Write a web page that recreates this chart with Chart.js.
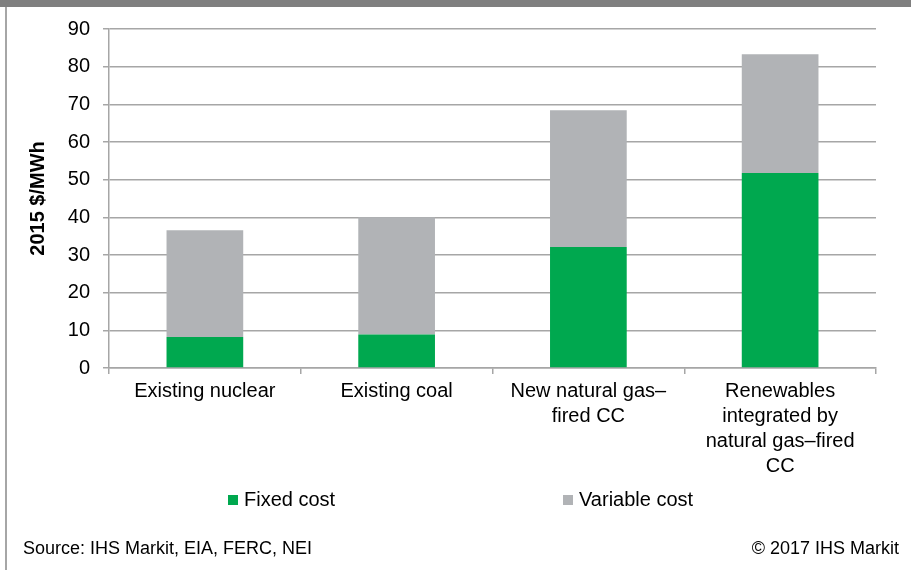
<!DOCTYPE html>
<html lang="en">
<head>
    <meta charset="UTF-8">
    <title>Cost comparison</title>
    <script src="https://cdn.jsdelivr.net/npm/chart.js"></script>
    <style>
        body { margin: 0; background: #fff; font-family: "Liberation Sans", Arial, sans-serif; }
        #wrap { position: relative; width: 911px; height: 570px; overflow: hidden; }
        #stripe { position: absolute; left: 0; top: 0; width: 911px; height: 7px; background: #7f7f7f; }
        #edge { position: absolute; left: 5px; top: 7px; width: 2px; height: 563px; background: #a6a6a6; }
        #box { position: absolute; left: 0; top: 0; width: 911px; height: 570px; }
        .note { position: absolute; top: 538px; font-size: 18px; color: #000; }
    </style>
</head>
<body>
    <div id="wrap">
        <div id="box"><canvas id="costChart"></canvas></div>
        <div id="stripe"></div>
        <div id="edge"></div>
        <div class="note" style="left: 23px;">Source: IHS Markit, EIA, FERC, NEI</div>
        <div class="note" style="right: 12px;">© 2017 IHS Markit</div>
    </div>

    <script>
        const categories = [
            ['Existing nuclear'],
            ['Existing coal'],
            ['New natural gas–', 'fired CC'],
            ['Renewables', 'integrated by', 'natural gas–fired', 'CC']
        ];
        const fixedCost = [8.2, 8.9, 32.1, 51.8];
        const variableCost = [28.4, 31.1, 36.3, 31.5];
        const yTicks = [0, 10, 20, 30, 40, 50, 60, 70, 80, 90];

        const font = '"Liberation Sans", Arial, sans-serif';
        const gridGray = '#a6a6a6';

        // legend drawn by hand so the two entries sit far apart like the original
        const legendSpots = [228, 563];
        const spreadLegend = {
            id: 'spreadLegend',
            afterDraw(chart) {
                const c = chart.ctx;
                c.save();
                c.font = '20px ' + font;
                c.textBaseline = 'alphabetic';
                chart.data.datasets.forEach((ds, i) => {
                    const x = legendSpots[i];
                    c.fillStyle = ds.backgroundColor;
                    c.fillRect(x, 495, 10, 10);
                    c.fillStyle = '#000';
                    c.fillText(ds.label, x + 16, 506);
                });
                c.restore();
            }
        };

        const ctx = document.getElementById('costChart').getContext('2d');
        new Chart(ctx, {
            type: 'bar',
            data: {
                labels: categories,
                datasets: [
                    { label: 'Fixed cost', data: fixedCost, backgroundColor: '#00a84f' },
                    { label: 'Variable cost', data: variableCost, backgroundColor: '#b1b3b6' }
                ]
            },
            options: {
                responsive: true,
                maintainAspectRatio: false,
                animation: false,
                layout: { padding: { top: 29, right: 35, bottom: 0, left: 0 } },
                plugins: {
                    legend: { display: false },
                    tooltip: { enabled: false }
                },
                datasets: {
                    bar: { categoryPercentage: 1.0, barPercentage: 0.4 }
                },
                scales: {
                    x: {
                        stacked: true,
                        afterFit(scale) { scale.height = 202; },
                        grid: {
                            drawOnChartArea: false,
                            drawTicks: true,
                            tickLength: 6,
                            color: gridGray,
                            lineWidth: 1.5
                        },
                        border: { color: gridGray, width: 1.5 },
                        ticks: {
                            color: '#000',
                            font: { family: font, size: 20, lineHeight: 1.25 },
                            padding: 5,
                            maxRotation: 0,
                            autoSkip: false
                        }
                    },
                    y: {
                        stacked: true,
                        min: 0,
                        max: 90,
                        afterFit(scale) { scale.width = 109; },
                        afterBuildTicks(scale) { scale.ticks = yTicks.map(v => ({ value: v })); },
                        grid: {
                            color: gridGray,
                            lineWidth: 1.5,
                            drawTicks: true,
                            tickLength: 6
                        },
                        border: { color: gridGray, width: 1.5 },
                        ticks: {
                            color: '#000',
                            font: { family: font, size: 20 },
                            padding: 13
                        },
                        title: {
                            display: true,
                            text: '2015 $/MWh',
                            color: '#000',
                            font: { family: font, size: 20, weight: 'bold' },
                            padding: { top: 26, bottom: 0 }
                        }
                    }
                }
            },
            plugins: [spreadLegend]
        });
    </script>
</body>
</html>
